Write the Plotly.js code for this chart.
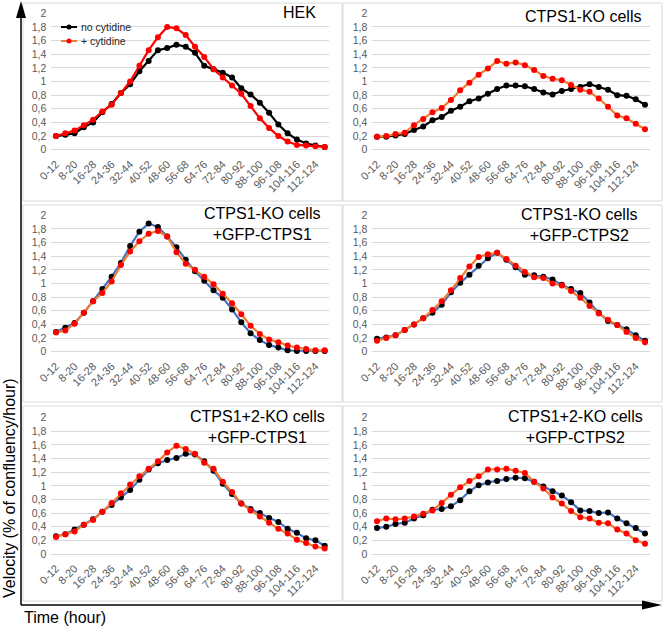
<!DOCTYPE html>
<html><head><meta charset="utf-8">
<script src="https://cdn.plot.ly/plotly-3.0.1.min.js"></script>
<style>html,body{margin:0;padding:0;background:#fff}#chart{width:663px;height:627px}</style>
</head><body><div id="chart"></div>
<script>
// ---- data ----
const categories = ["0-12","4-16","8-20","12-24","16-28","20-32","24-36","28-40","32-44","36-48","40-52","44-56","48-60","52-64","56-68","60-72","64-76","68-80","72-84","76-88","80-92","84-96","88-100","92-104","96-108","100-112","104-116","108-120","112-124","116-128"];
const xTickLabels = ["0-12","8-20","16-28","24-36","32-44","40-52","48-60","56-68","64-76","72-84","80-92","88-100","96-108","104-116","112-124"];
const yTickVals = [0,0.2,0.4,0.6,0.8,1,1.2,1.4,1.6,1.8,2];
const yTickText = ["0","0,2","0,4","0,6","0,8","1","1,2","1,4","1,6","1,8","2"];
const seriesNames = ["no cytidine","+ cytidine"];
const panelTitles = ["HEK","CTPS1-KO cells","CTPS1-KO cells<br>+GFP-CTPS1","CTPS1-KO cells<br>+GFP-CTPS2","CTPS1+2-KO cells<br>+GFP-CTPS1","CTPS1+2-KO cells<br>+GFP-CTPS2"];

const hekNoCyt    = [0.20,0.22,0.24,0.33,0.40,0.55,0.67,0.83,0.96,1.15,1.30,1.46,1.49,1.54,1.51,1.42,1.23,1.18,1.13,1.06,0.90,0.81,0.69,0.54,0.37,0.24,0.15,0.09,0.06,0.04];
const hekCyt      = [0.20,0.24,0.28,0.36,0.44,0.56,0.66,0.83,1.00,1.23,1.46,1.65,1.80,1.78,1.68,1.51,1.36,1.18,1.06,0.94,0.82,0.64,0.46,0.32,0.20,0.12,0.07,0.06,0.05,0.04];
const ko1NoCyt    = [0.19,0.19,0.21,0.23,0.29,0.34,0.43,0.48,0.57,0.63,0.71,0.75,0.82,0.89,0.94,0.94,0.93,0.89,0.84,0.81,0.86,0.89,0.92,0.96,0.92,0.88,0.80,0.79,0.74,0.66];
const ko1Cyt      = [0.19,0.20,0.23,0.25,0.36,0.45,0.55,0.61,0.73,0.87,0.98,1.10,1.19,1.30,1.26,1.28,1.24,1.17,1.08,1.04,1.02,0.95,0.88,0.85,0.75,0.63,0.50,0.46,0.38,0.30];
const ko1Gfp1No   = [0.29,0.35,0.42,0.57,0.74,0.92,1.10,1.30,1.55,1.76,1.88,1.83,1.69,1.53,1.35,1.18,1.04,0.90,0.79,0.62,0.43,0.27,0.17,0.10,0.06,0.02,0.01,0.01,0.01,0.01];
const ko1Gfp1Cyt  = [0.28,0.31,0.41,0.57,0.74,0.86,1.03,1.27,1.47,1.62,1.73,1.77,1.69,1.46,1.29,1.20,1.10,0.99,0.85,0.71,0.55,0.38,0.26,0.18,0.14,0.09,0.06,0.04,0.02,0.02];
const ko1Gfp2No   = [0.19,0.21,0.24,0.32,0.40,0.49,0.57,0.69,0.87,1.01,1.13,1.26,1.37,1.45,1.35,1.24,1.13,1.12,1.10,1.06,0.98,0.92,0.86,0.72,0.57,0.45,0.39,0.33,0.24,0.16];
const ko1Gfp2Cyt  = [0.16,0.20,0.24,0.32,0.40,0.49,0.61,0.74,0.90,1.08,1.25,1.39,1.43,1.45,1.36,1.26,1.17,1.09,1.08,1.00,0.97,0.89,0.79,0.67,0.56,0.47,0.39,0.29,0.20,0.14];
const ko12Gfp1No  = [0.26,0.29,0.36,0.43,0.51,0.62,0.72,0.83,0.94,1.09,1.24,1.33,1.38,1.41,1.47,1.46,1.36,1.22,1.03,0.88,0.74,0.66,0.60,0.53,0.47,0.37,0.31,0.23,0.20,0.12];
const ko12Gfp1Cyt = [0.25,0.29,0.33,0.43,0.50,0.62,0.75,0.89,1.02,1.14,1.25,1.36,1.49,1.59,1.54,1.47,1.34,1.25,1.06,0.91,0.74,0.64,0.55,0.46,0.37,0.30,0.21,0.16,0.11,0.08];
const ko12Gfp2No  = [0.38,0.40,0.44,0.46,0.52,0.57,0.65,0.66,0.70,0.79,0.92,1.01,1.05,1.07,1.10,1.12,1.11,1.06,0.99,0.92,0.86,0.76,0.64,0.63,0.60,0.61,0.52,0.45,0.38,0.30];
const ko12Gfp2Cyt = [0.48,0.52,0.51,0.52,0.55,0.59,0.64,0.75,0.87,0.98,1.07,1.14,1.24,1.24,1.25,1.22,1.19,1.06,0.96,0.83,0.74,0.63,0.54,0.52,0.46,0.45,0.36,0.30,0.20,0.15];

const panelSeries = [
  [hekNoCyt, hekCyt],
  [ko1NoCyt, ko1Cyt],
  [ko1Gfp1No, ko1Gfp1Cyt],
  [ko1Gfp2No, ko1Gfp2Cyt],
  [ko12Gfp1No, ko12Gfp1Cyt],
  [ko12Gfp2No, ko12Gfp2Cyt]
];

// ---- style ----
const W = 663, H = 627;
const FONT = "Liberation Sans, Arial, sans-serif";
const px = x => x / W;
const py = y => 1 - y / H;
const lineColors = [
  ["#000000", "#FF0000"],
  ["#000000", "#ED7D31"],
  ["#4472C4", "#ED7D31"],
  ["#4472C4", "#ED7D31"],
  ["#4472C4", "#ED7D31"],
  ["#4472C4", "#ED7D31"]
];
const markerColors = ["#000000", "#FF0000"];
const colDom = [[51.4, 329.3], [372.4, 649.6]];
const rowDom = [[13.3, 149.7], [215.3, 351.7], [417.7, 554.0]];
const panelBoxes = [
  [23, 3, 342, 201], [343, 3, 662, 201],
  [23, 205, 342, 402], [343, 205, 662, 402],
  [23, 406, 342, 601], [343, 406, 662, 601]
];
const titlePos = [
  {x: 318, y: 12.5, xanchor: "right"},
  {x: 643, y: 17, xanchor: "right"},
  {x: 262, y: 224, xanchor: "center"},
  {x: 579, y: 225, xanchor: "center"},
  {x: 257, y: 427, xanchor: "center"},
  {x: 575, y: 427, xanchor: "center"}
];

const data = [];
const layout = {
  width: W, height: H,
  margin: {l: 0, r: 0, t: 0, b: 0},
  paper_bgcolor: "#fff", plot_bgcolor: "rgba(0,0,0,0)",
  showlegend: false,
  font: {family: FONT, color: "#595959"},
  shapes: [], annotations: []
};

panelSeries.forEach((pair, i) => {
  const col = i % 2, row = Math.floor(i / 2);
  const sfx = i === 0 ? "" : String(i + 1);
  pair.forEach((ys, s) => {
    data.push({
      type: "scatter", mode: "lines+markers",
      x: categories, y: ys, name: seriesNames[s],
      xaxis: "x" + sfx, yaxis: "y" + sfx,
      line: {color: lineColors[i][s], width: 2.2},
      marker: {color: markerColors[s], size: 6},
      cliponaxis: false, hoverinfo: "skip"
    });
  });
  layout["xaxis" + sfx] = {
    domain: [px(colDom[col][0]), px(colDom[col][1])],
    anchor: "y" + sfx, type: "category",
    categoryorder: "array", categoryarray: categories,
    range: [-0.5, categories.length - 0.5],
    tickmode: "array", tickvals: xTickLabels, ticktext: xTickLabels,
    tickangle: -45, tickfont: {size: 11, color: "#595959", family: FONT},
    ticklabelstandoff: 5,
    showgrid: false, zeroline: false, showline: false, ticks: "",
    fixedrange: true
  };
  layout["yaxis" + sfx] = {
    domain: [py(rowDom[row][1]), py(rowDom[row][0])],
    anchor: "x" + sfx, range: [0, 2],
    tickmode: "array", tickvals: yTickVals, ticktext: yTickText,
    tickfont: {size: 10.5, color: "#595959", family: FONT},
    showgrid: true, gridcolor: "#D9D9D9", gridwidth: 1,
    zeroline: true, zerolinecolor: "#D9D9D9", zerolinewidth: 1,
    showline: false, ticks: "", ticklabelstandoff: 4,
    fixedrange: true
  };
  const b = panelBoxes[i];
  layout.shapes.push({type: "rect", xref: "paper", yref: "paper",
    x0: px(b[0]), x1: px(b[2]), y0: py(b[1]), y1: py(b[3]),
    line: {color: "#D9D9D9", width: 1}, fillcolor: "rgba(0,0,0,0)", layer: "below"});
  const t = titlePos[i];
  layout.annotations.push({xref: "paper", yref: "paper", x: px(t.x), y: py(t.y),
    xanchor: t.xanchor, yanchor: "middle", align: "center", showarrow: false,
    text: panelTitles[i], font: {size: 16, color: "#000", family: FONT}});
});

// legend (drawn in panel 1 area)
const legendRows = [
  {y: 27, line: "#000000", marker: "#000000", text: seriesNames[0]},
  {y: 41, line: "#ED7D31", marker: "#FF0000", text: seriesNames[1]}
];
legendRows.forEach(r => {
  layout.shapes.push({type: "line", xref: "paper", yref: "paper",
    x0: px(61), x1: px(77), y0: py(r.y), y1: py(r.y), line: {color: r.line, width: 2}});
  layout.shapes.push({type: "circle", xref: "paper", yref: "paper",
    x0: px(66.5), x1: px(71.5), y0: py(r.y + 2.5), y1: py(r.y - 2.5),
    line: {width: 0}, fillcolor: r.marker});
  layout.annotations.push({xref: "paper", yref: "paper", x: px(79), y: py(r.y),
    xanchor: "left", yanchor: "middle", showarrow: false, text: r.text,
    font: {size: 10.5, color: "#262626", family: FONT}});
});

// big axis arrows
layout.shapes.push({type: "line", xref: "paper", yref: "paper",
  x0: px(21), x1: px(21), y0: py(605), y1: py(12), line: {color: "#000", width: 1.5}});
layout.shapes.push({type: "path", xref: "paper", yref: "paper",
  path: `M ${px(21)} ${py(1)} L ${px(16)} ${py(18)} L ${px(26)} ${py(18)} Z`,
  fillcolor: "#000", line: {width: 0}});
layout.shapes.push({type: "line", xref: "paper", yref: "paper",
  x0: px(21), x1: px(650), y0: py(605), y1: py(605), line: {color: "#000", width: 1.5}});
layout.shapes.push({type: "path", xref: "paper", yref: "paper",
  path: `M ${px(662)} ${py(605)} L ${px(642)} ${py(600.5)} L ${px(642)} ${py(609.5)} Z`,
  fillcolor: "#000", line: {width: 0}});

layout.annotations.push({xref: "paper", yref: "paper", x: px(22), y: py(617),
  xanchor: "left", yanchor: "middle", showarrow: false, text: "Time (hour)",
  font: {size: 16, color: "#000", family: FONT}});
layout.annotations.push({xref: "paper", yref: "paper", x: px(9), y: py(488),
  xanchor: "center", yanchor: "middle", showarrow: false, textangle: -90,
  text: "Velocity (% of confluency/hour)",
  font: {size: 16, color: "#000", family: FONT}});

Plotly.newPlot("chart", data, layout, {staticPlot: true, displayModeBar: false});
</script>
</body></html>
